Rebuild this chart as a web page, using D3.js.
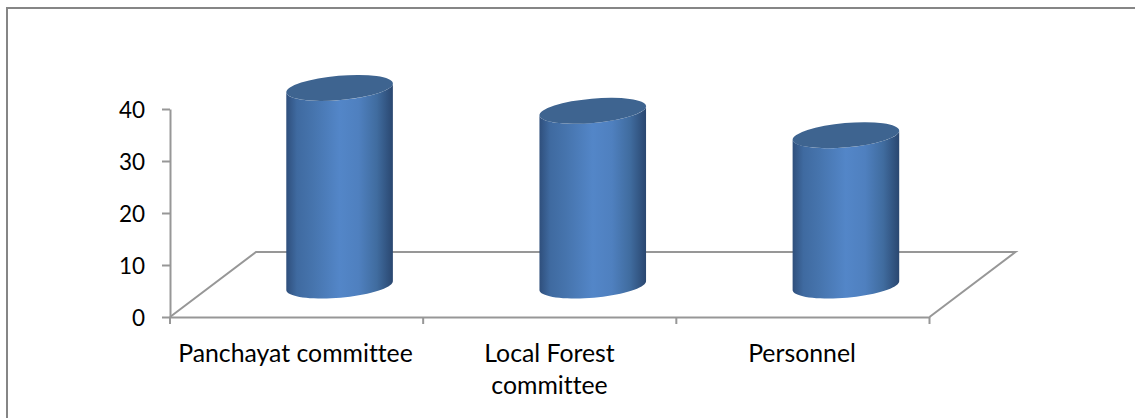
<!DOCTYPE html>
<html><head><meta charset="utf-8">
<script src="https://cdn.jsdelivr.net/npm/d3@7"></script>
<style>html,body{margin:0;padding:0;background:#fff;overflow:hidden}svg{display:block}text{font-family:Lato,sans-serif;fill:#000;font-variant-ligatures:none}</style>
</head><body><svg id="c" width="1135" height="418"></svg>
<script>
const categories = ["Panchayat committee", "Local Forest committee", "Personnel"];
const labelLines = [["Panchayat committee"], ["Local Forest", "committee"], ["Personnel"]];
const values = [38, 33.6, 28.9];
const yTicks = [0, 10, 20, 30, 40];

const svg = d3.select("#c");
const axisColor = "#979797";
const y = d3.scaleLinear().domain([0, 40]).range([317, 109]);
const x = d3.scaleBand().domain(categories).range([170, 929.5]);
const depth = {dx: 86, dy: -65};
const rx = 53.5, ry = 12.2, tilt = -5, baseShift = 1;

svg.append("path").attr("d", "M7,418V8H1135").attr("fill", "none").attr("stroke", "#868686").attr("stroke-width", 2);

const defs = svg.append("defs");
const g = defs.append("linearGradient").attr("id", "cyl");
[[0, "#2f4f7c"], [0.1, "#3f6aa0"], [0.25, "#4674ad"], [0.5, "#5386c8"], [0.68, "#4f80bf"], [0.85, "#406c9f"], [1, "#2a4770"]]
  .forEach(([o, c]) => g.append("stop").attr("offset", o).attr("stop-color", c));

// floor
const x0 = x.range()[0], x1 = x.range()[1];
svg.append("path")
  .attr("d", `M${x0},${y(0)}L${x0 + depth.dx},${y(0) + depth.dy}H${x1 + depth.dx}L${x1},${y(0)}`)
  .attr("fill", "none").attr("stroke", axisColor).attr("stroke-width", 2);

// axes
const yAxis = svg.append("g").attr("transform", `translate(${x0},0)`)
  .call(d3.axisLeft(y).tickValues(yTicks).tickSize(8).tickPadding(17).tickSizeOuter(0));
const xAxis = svg.append("g").attr("transform", `translate(0,${y(0)})`)
  .call(d3.axisBottom(x).tickValues([]).tickSizeOuter(0));
[yAxis, xAxis].forEach(a => {
  a.selectAll("path,line").attr("stroke", axisColor).attr("stroke-width", 2);
});
yAxis.selectAll("text").style("font-size", "22.5px").style("font-family", "Lato,sans-serif").attr("y", 1.5);
svg.selectAll(".xtick").data(d3.range(categories.length + 1)).join("line")
  .attr("class", "xtick")
  .attr("x1", i => x0 + i * x.step()).attr("x2", i => x0 + i * x.step())
  .attr("y1", y(0)).attr("y2", y(0) + 7)
  .attr("stroke", axisColor).attr("stroke-width", 2);

// cylinders
const rad = tilt * Math.PI / 180;
const ellipsePoint = (t, cy) => {
  const px = rx * Math.cos(t), py = ry * Math.sin(t);
  return [px * Math.cos(rad) - py * Math.sin(rad), cy + px * Math.sin(rad) + py * Math.cos(rad)];
};
const halfTurn = d3.range(0, 181, 5).map(a => a * Math.PI / 180);
const bar = svg.selectAll(".bar").data(categories).join("g").attr("class", "bar")
  .attr("transform", (d) => `translate(${x(d) + x.bandwidth() / 2 + depth.dx / 2},0)`);
bar.append("path").attr("fill", "url(#cyl)")
  .attr("d", (d, i) => {
    const topY = y(values[i]) + depth.dy / 2 + baseShift, botY = y(0) + depth.dy / 2 + baseShift;
    const lower = halfTurn.map(t => ellipsePoint(t, botY));
    const upper = halfTurn.map(t => ellipsePoint(t, topY)).reverse();
    return d3.line()(lower.concat(upper)) + "Z";
  });
bar.append("ellipse").attr("rx", rx).attr("ry", ry).attr("fill", "#3e6490")
  .attr("transform", (d, i) => `translate(0,${y(values[i]) + depth.dy / 2 + baseShift}) rotate(${tilt})`);

// category labels
categories.forEach((c, i) => {
  const t = svg.append("text").attr("text-anchor", "middle").style("font-size", "24.8px")
    .attr("x", [295.5, 549.5, 802][i]).attr("y", 361.5);
  labelLines[i].forEach((l, k) => t.append("tspan").attr("x", t.attr("x")).attr("dy", k ? 32 : 0).text(l));
});
</script></body></html>
